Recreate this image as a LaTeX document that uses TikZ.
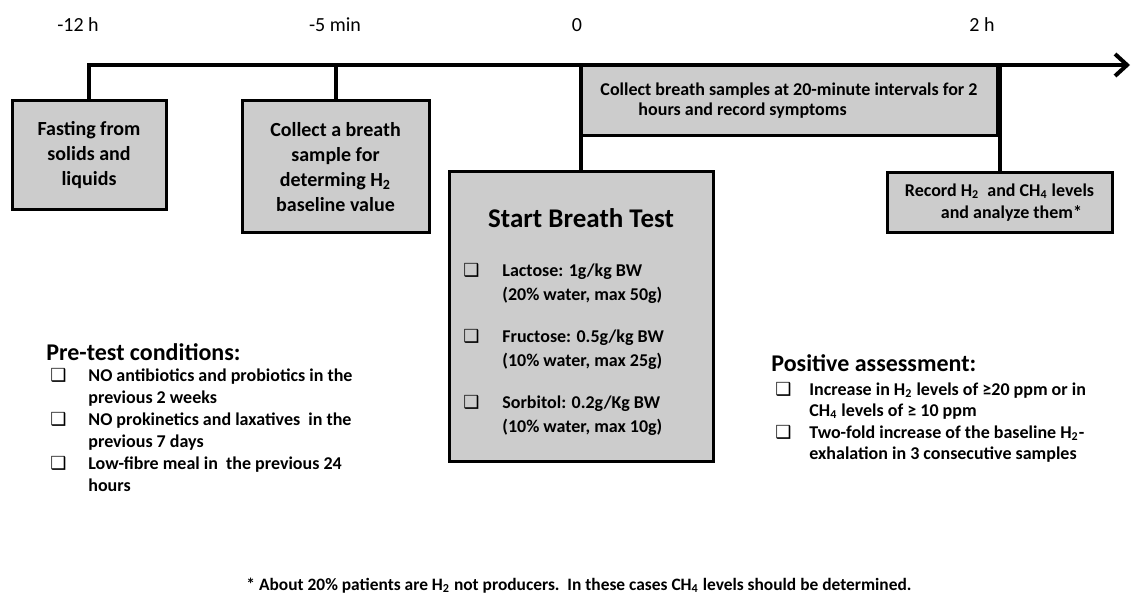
\documentclass[tikz,border=0pt]{standalone}
\usepackage{fontspec}
\setmainfont{Carlito}
\newfontfamily\chkfont{DejaVu Sans}
\definecolor{bgray}{RGB}{204,204,204}
\usetikzlibrary{arrows.meta}
\newcommand{\chk}{{\chkfont ❑}}

\begin{document}
\begin{tikzpicture}[x=0.5pt,y=-0.5pt,
  stagebox/.style={draw,line width=1.5pt,fill=bgray,align=center,inner sep=2pt,
    font=\bfseries\fontsize{10}{12.5}\selectfont},
  timelbl/.style={font=\fontsize{10}{12}\selectfont},
  tline/.style={line width=2pt},
  headtxt/.style={anchor=west,inner sep=0pt,font=\bfseries\fontsize{12}{14}\selectfont},
  listtxt/.style={anchor=north west,inner sep=0pt,font=\bfseries\fontsize{9}{11}\selectfont}
]
  \useasboundingbox (0,0) rectangle (1131,604);

  % Time marks
  \node[timelbl] (t12) at (78,25) {-12 h};
  \node[timelbl] (t5) at (335,25) {-5 min};
  \node[timelbl] (t0) at (577,25) {0};
  \node[timelbl] (t2) at (982,25) {2 h};

  % Stages
  \node[stagebox,minimum width=77pt,minimum height=54.5pt] (fast) at (89,155.5)
    {Fasting from\\solids and\\liquids};
  \node[stagebox,minimum width=93.5pt,minimum height=66pt] (base) at (335.5,167)
    {Collect a breath\\sample for\\determing H\textsubscript{2}\\baseline value};
  \node[stagebox,align=left,minimum width=208pt,minimum height=35.5pt,
    font=\bfseries\fontsize{9}{10}\selectfont] (samples) at (789,100.5)
    {Collect breath samples at 20-minute intervals for 2\\\hspace*{19pt}hours and record symptoms};
  \node[stagebox,align=left,minimum width=112.5pt,minimum height=30pt,
    font=\bfseries\fontsize{9}{11}\selectfont] (record) at (999.5,203)
    {Record H\textsubscript{2}\ \ and CH\textsubscript{4} levels\\\hspace*{18pt}and analyze them*};
  \node[stagebox,minimum width=132pt,minimum height=145pt] (start) at (581,317) {};
  \node[font=\bfseries\fontsize{13.5}{16}\selectfont] (title) at (581,218) {Start Breath Test};
  \node[listtxt,font=\bfseries\fontsize{9}{12}\selectfont] (doses) at (463,259) {%
    \begin{tabular}{@{}p{19.5pt}@{}l@{}}
      \chk & Lactose: 1g/kg BW\\
           & (20\% water, max 50g)\\[9pt]
      \chk & Fructose: 0.5g/kg BW\\
           & (10\% water, max 25g)\\[9pt]
      \chk & Sorbitol: 0.2g/Kg BW\\
           & (10\% water, max 10g)
    \end{tabular}};

  % Time line
  \coordinate (tend) at (1130,65);
  \draw[tline,-{Straight Barb[length=6pt,width=11pt]}] (fast.north) |- (tend);
  \draw[tline] (base.north) -- (base.north |- tend);
  \draw[tline] (start.north) -- (start.north |- tend);
  \draw[tline] (record.north) -- (record.north |- tend);

  % Conditions and assessment
  \node[headtxt] (precond) at (46,352) {Pre-test conditions:};
  \node[listtxt] (prelist) at (50,366) {%
    \begin{tabular}{@{}p{19pt}@{}l@{}}
      \chk & NO antibiotics and probiotics in the\\
           & previous 2 weeks\\
      \chk & NO prokinetics and laxatives\ \ in the\\
           & previous 7 days\\
      \chk & Low-fibre meal in\ \ the previous 24\\
           & hours
    \end{tabular}};
  \node[headtxt] (posassess) at (771,363) {Positive assessment:};
  \node[listtxt,font=\bfseries\fontsize{9}{10.75}\selectfont] (poslist) at (775,380) {%
    \begin{tabular}{@{}p{17pt}@{}l@{}}
      \chk & Increase in H\textsubscript{2} levels of ≥20 ppm or in\\
           & CH\textsubscript{4} levels\ of ≥ 10 ppm\\
      \chk & Two-fold increase of the baseline H\textsubscript{2}-\\
           & exhalation in 3 consecutive samples
    \end{tabular}};

  % Footnote
  \node[font=\bfseries\fontsize{8.7}{10}\selectfont] (note) at (579,586)
    {* About 20\% patients are H\textsubscript{2} not producers.\ \ In these cases CH\textsubscript{4} levels should be determined.};
\end{tikzpicture}
\end{document}
